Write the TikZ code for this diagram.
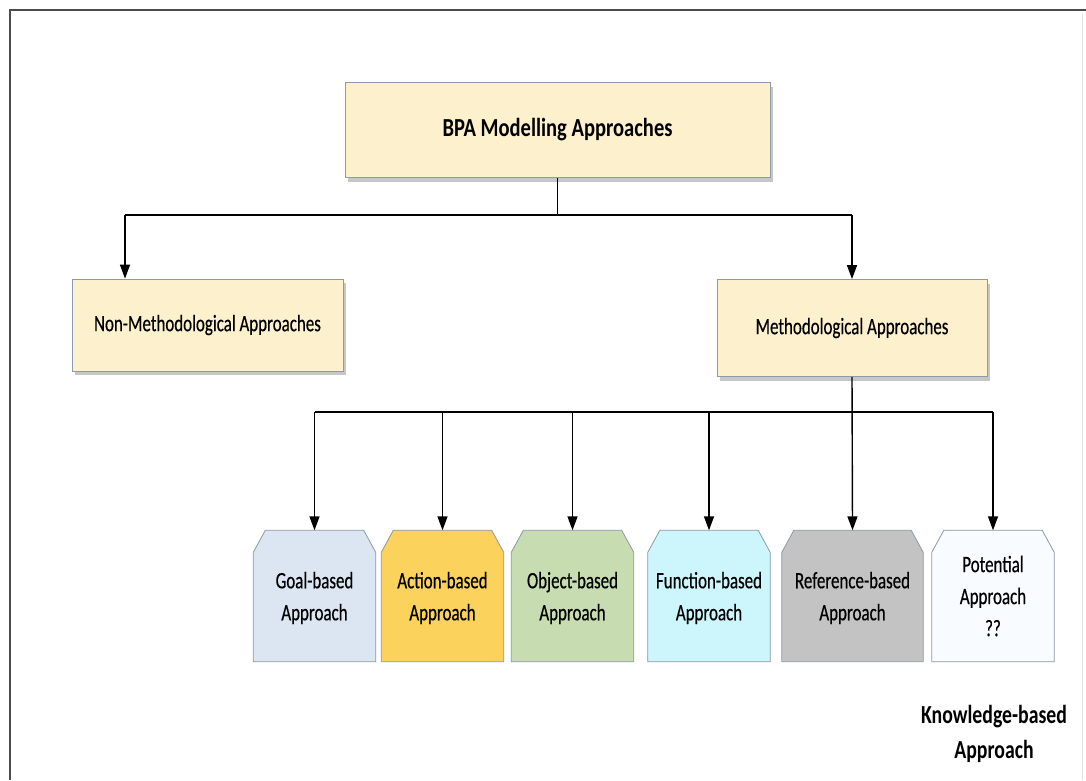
\documentclass[tikz,border=0pt]{standalone}
\usepackage{fontspec}
\setmainfont{Carlito}
\newfontfamily\narrowfont[FakeStretch=0.72,FakeBold=0.4]{Carlito}
\newfontfamily\narrowbold[FakeStretch=0.76]{Carlito Bold}
\newfontfamily\titlebold[FakeStretch=0.79]{Carlito Bold}
\usetikzlibrary{arrows.meta,shadows,backgrounds}
\definecolor{boxfill}{HTML}{FDF1CD}
\definecolor{boxline}{HTML}{8C9AAB}
\definecolor{goalfill}{HTML}{DCE6F2}
\definecolor{actionfill}{HTML}{FAD25C}
\definecolor{objectfill}{HTML}{C7DDB1}
\definecolor{functionfill}{HTML}{CCF6FC}
\definecolor{referencefill}{HTML}{C3C3C3}
\definecolor{potentialfill}{HTML}{F8FBFF}
\tikzset{
  mainbox/.style={rectangle, draw=boxline, line width=0.8pt, fill=boxfill,
    drop shadow={shadow xshift=3pt, shadow yshift=-4pt, opacity=0.55, fill=gray!80},
    inner sep=0pt},
  % text holder of an approach kind; its outline is drawn on the background layer
  kindbox/.style={rectangle, minimum width=122pt, minimum height=131pt,
    inner sep=0pt, align=center, font=\narrowfont\fontsize{23.5}{32}\selectfont},
  kindshape/.style={draw=boxline, line width=0.8pt},
  conn/.style={line width=1.4pt, black},
  arr/.style={conn, -{Triangle[width=10pt,length=14pt]}}
}
\begin{document}
\begin{tikzpicture}[x=1pt,y=-1pt]
  \useasboundingbox (0,0) rectangle (1086,780);
  \begin{scope}[on background layer]
    \fill[white] (0,0) rectangle (1086,780);
  \end{scope}
  % page frame
  \draw[line width=2pt, black!70] (10,780) -- (10,10) -- (1086,10);
  \draw[line width=0.8pt, black!12] (1082,14) -- (1082,780);

  % main boxes
  \node[mainbox, minimum width=425pt, minimum height=95pt,
        font=\titlebold\fontsize{26}{30}\selectfont]
    (top) at (557.5,130) {BPA Modelling Approaches};
  \node[mainbox, minimum width=271pt, minimum height=92pt,
        font=\narrowfont\fontsize{23.5}{28}\selectfont]
    (nonmeth) at (207.5,325) {Non-Methodological Approaches};
  \node[mainbox, minimum width=270pt, minimum height=97pt,
        font=\narrowfont\fontsize{23.5}{28}\selectfont]
    (meth) at (852,328) {Methodological Approaches};

  % approach kinds (two-line labels sit 2pt lower than their outline's centre)
  \node[kindbox] (goal) at (314.5,598) {Goal-based\\Approach};
  \node[kindbox] (action) at (442.5,598) {Action-based\\Approach};
  \node[kindbox] (object) at (572.5,598) {Object-based\\Approach};
  \node[kindbox] (function) at (709,598) {Function-based\\Approach};
  \node[kindbox, minimum width=141pt] (reference) at (852.5,598) {Reference-based\\Approach};
  \node[kindbox] (potential) at (993,596) {Potential\\Approach\\??};

  % outlines of the approach kinds: rectangles with both top corners cut off
  \begin{scope}[on background layer]
    \foreach \k/\c/\dy in {goal/goalfill/2, action/actionfill/2, object/objectfill/2,
                          function/functionfill/2, reference/referencefill/2,
                          potential/potentialfill/0}{
      \fill[gray, opacity=0.3, xshift=1pt, yshift=-2pt]
        ([yshift=\dy pt]\k.south west) -- ([yshift=\dy pt-22pt]\k.north west)
        -- ([xshift=12pt, yshift=\dy pt]\k.north west) -- ([xshift=-12pt, yshift=\dy pt]\k.north east)
        -- ([yshift=\dy pt-22pt]\k.north east) -- ([yshift=\dy pt]\k.south east) -- cycle;
      \draw[kindshape, fill=\c]
        ([yshift=\dy pt]\k.south west) -- ([yshift=\dy pt-22pt]\k.north west)
        -- ([xshift=12pt, yshift=\dy pt]\k.north west) -- ([xshift=-12pt, yshift=\dy pt]\k.north east)
        -- ([yshift=\dy pt-22pt]\k.north east) -- ([yshift=\dy pt]\k.south east) -- cycle;
    }
  \end{scope}

  \node[align=center, font=\narrowbold\fontsize{26}{35}\selectfont]
    (knowledge) at (994,734) {Knowledge-based\\Approach};

  % connectors from the top box
  \coordinate (split) at (top.south |- 0,215);
  \draw[conn] (top.south) -- (split);
  \draw[conn] ([xshift=-82.5pt]nonmeth.north |- split) -- (meth.north |- split);
  \draw[arr] ([xshift=-82.5pt]nonmeth.north |- split) -- ([xshift=-82.5pt]nonmeth.north);
  \draw[arr] (meth.north |- split) -- (meth.north);

  % connectors to the approach kinds
  \coordinate (bar) at (meth.south |- 0,412);
  \coordinate (kindtop) at (potential.north);
  \draw[conn] (goal.north |- bar) -- (potential.north |- bar);
  \draw[arr] (meth.south) -- (reference.north |- kindtop);
  \foreach \k in {goal,action,object,function,potential}
    \draw[arr] (\k.north |- bar) -- (\k.north |- kindtop);
\end{tikzpicture}
\end{document}
